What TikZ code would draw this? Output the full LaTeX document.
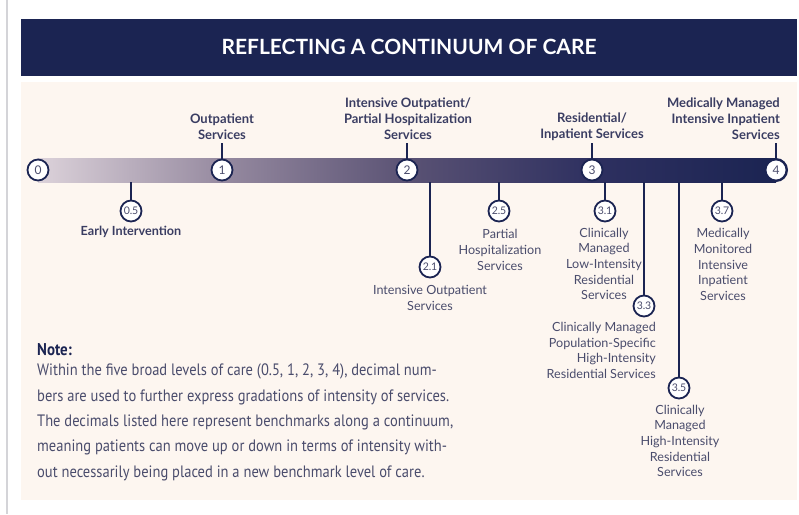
\documentclass[tikz,border=0pt]{standalone}
\usepackage{fontspec}
\setmainfont{Lato}
\newfontfamily\notefont[FakeStretch=0.88]{PT Sans}
\definecolor{navy}{HTML}{1B2452}
\definecolor{cream}{HTML}{FDF6F0}
\definecolor{lbl}{HTML}{4A4C6C}
\definecolor{toplbl}{HTML}{3A3D62}
\definecolor{ga}{HTML}{DCD2DA}
\definecolor{gb}{HTML}{968AA0}
\definecolor{gc}{HTML}{5A5274}
\definecolor{gd}{HTML}{2E3060}
\definecolor{ge}{HTML}{1B2452}
\definecolor{edge}{HTML}{D4D4D8}
\tikzset{
  lvl/.style={circle, draw=navy, line width=1.8pt, fill=white, minimum size=21pt, inner sep=0pt, text=lbl, font=\fontsize{12}{12}\selectfont},
  sublvl/.style={lvl, font=\fontsize{10.5}{11}\selectfont\addfontfeatures{LetterSpace=-2}},
  tick/.style={draw=navy, line width=1.8pt},
  toptext/.style={align=center, text=toplbl, inner sep=0pt, font=\fontsize{13}{16}\selectfont\bfseries},
  subtext/.style={align=center, text=lbl, inner sep=0pt, font=\fontsize{12.6}{15.6}\selectfont},
  notetext/.style={align=left, text=lbl, inner sep=0pt, anchor=north west, font=\notefont\fontsize{16.5}{25.3}\selectfont}
}
\begin{document}
\begin{tikzpicture}[x=1pt,y=-1pt]
\useasboundingbox (0,0) rectangle (799,514);
\fill[white] (0,0) rectangle (799,514);
% left edge line
\fill[edge] (6,0) rectangle (8,514);
% panel
\fill[cream] (21,82) rectangle (797,500);
% title banner
\fill[navy] (21,19) rectangle (797,76);
\node[text=white, font=\fontsize{21}{21}\selectfont\bfseries] (title) at (409,47) {REFLECTING A CONTINUUM OF CARE};
% bar
\fill[ge, rounded corners=12pt] (760,158) rectangle (788,182);
\shade[left color=ga, right color=gb] (38,158) rectangle (222.5,182);
\shade[left color=gb, right color=gc] (222,158) rectangle (407.5,182);
\shade[left color=gc, right color=gd] (407,158) rectangle (592.5,182);
\shade[left color=gd, right color=ge] (592,158) rectangle (776,182);
% upper labels
\node[toptext] (t1) at (222,127) {Outpatient\\Services};
\node[toptext] (t2) at (408,119) {Intensive Outpatient/\\Partial Hospitalization\\Services};
\node[toptext] (t3) at (592,127) {Residential/\\Inpatient Services};
\node[toptext, align=right, anchor=east] (t4) at (780,119) {Medically Managed\\Intensive Inpatient\\Services};
% main level circles
\node[lvl] (c0) at (38,170) {0};
\node[lvl] (c1) at (222,170) {1};
\node[lvl] (c2) at (407,170) {2};
\node[lvl] (c3) at (592,170) {3};
\node[lvl] (c4) at (776,170) {4};
\draw[tick] (c1.north) -- (222,143);
\draw[tick] (c2.north) -- (407,143);
\draw[tick] (c3.north) -- (592,143);
\draw[tick] (c4.north) -- (776,143);
% sub-levels
\node[sublvl] (s05) at (131,211) {0.5};
\node[sublvl] (s21) at (430,267) {2.1};
\node[sublvl] (s25) at (499,211) {2.5};
\node[sublvl] (s31) at (605,211) {3.1};
\node[sublvl] (s33) at (644,306) {3.3};
\node[sublvl] (s35) at (679,388) {3.5};
\node[sublvl] (s37) at (722,211) {3.7};
\foreach \n/\x in {s05/131,s21/430,s25/499,s31/605,s33/644,s35/679,s37/722}{
  \draw[tick] (\x,182) -- (\n.north);
}
\node[subtext, font=\fontsize{12.6}{15.6}\selectfont\bfseries, text=toplbl] (l05) at (131,232) {Early Intervention};
\node[subtext] (l21) at (430,298) {Intensive Outpatient\\Services};
\node[subtext] (l25) at (500,250) {Partial\\Hospitalization\\Services};
\node[subtext] (l31) at (604,264) {Clinically\\Managed\\Low-Intensity\\Residential\\Services};
\node[subtext, align=right, anchor=east] (l33) at (656,350.5) {Clinically Managed\\Population-Specific\\High-Intensity\\Residential Services};
\node[subtext] (l35) at (680,441) {Clinically\\Managed\\High-Intensity\\Residential\\Services};
\node[subtext] (l37) at (723,264.5) {Medically\\Monitored\\Intensive\\Inpatient\\Services};
% note
\node[anchor=west, inner sep=0pt, text=navy, font=\notefont\fontsize{17}{17}\selectfont\bfseries] (notehead) at (37,350) {Note:};
\node[notetext] (note) at (37,364) {Within the five broad levels of care (0.5, 1, 2, 3, 4), decimal num-\\
bers are used to further express gradations of intensity of services.\\
The decimals listed here represent benchmarks along a continuum,\\
meaning patients can move up or down in terms of intensity with-\\
out necessarily being placed in a new benchmark level of care.};
\end{tikzpicture}
\end{document}
